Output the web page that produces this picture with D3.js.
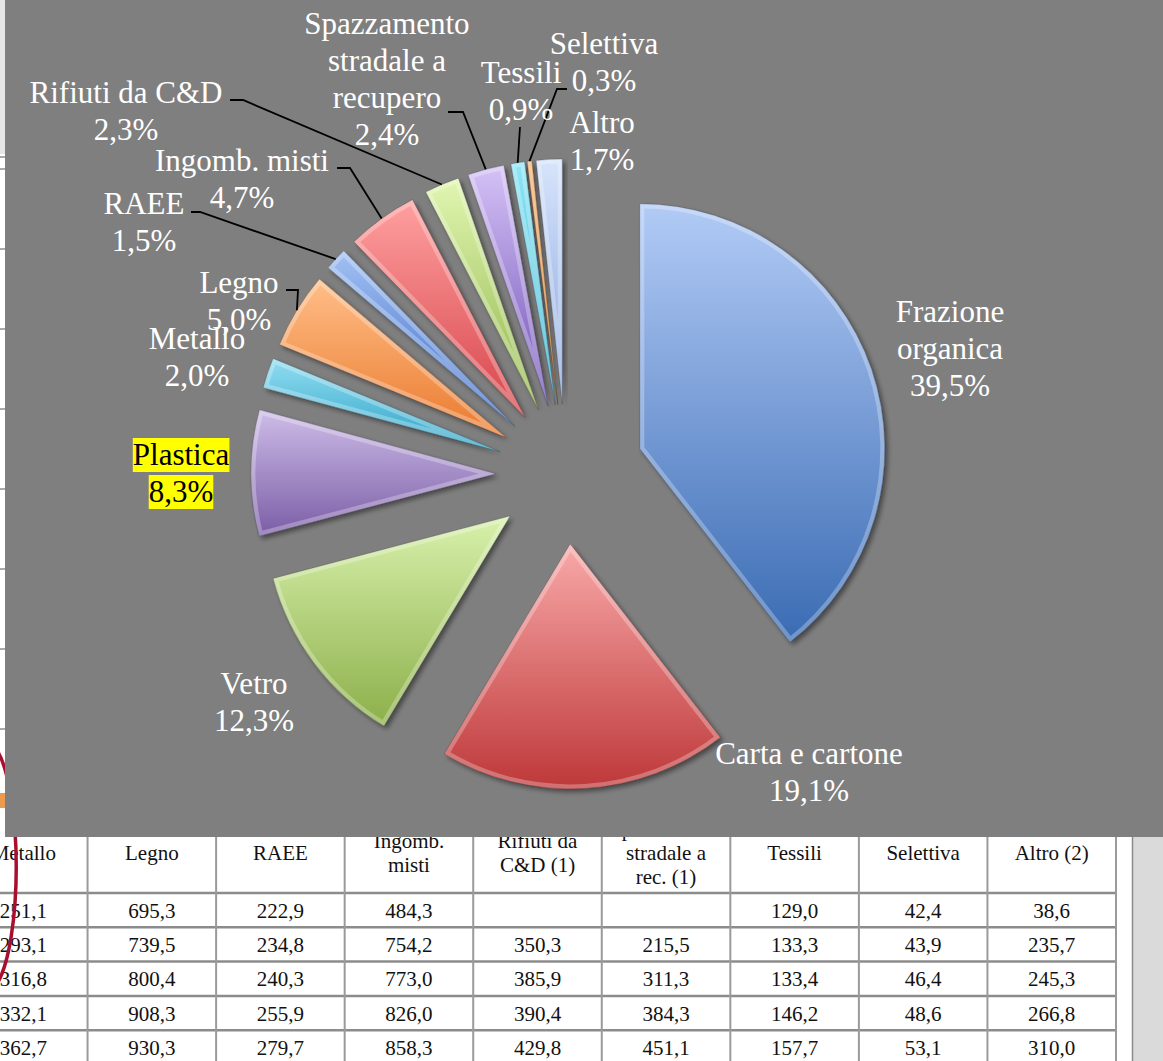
<!DOCTYPE html>
<html>
<head>
<meta charset="utf-8">
<script src="https://cdn.jsdelivr.net/npm/d3@7"></script>
<style>
  body { margin: 0; background: #fff; }
  svg { display: block; }
</style>
</head>
<body>
<div id="chart"></div>
<script>
// pie data (share of separate collection, %)
const categories = ["Frazione organica", "Carta e cartone", "Vetro", "Plastica", "Metallo", "Legno",
  "RAEE", "Ingomb. misti", "Rifiuti da C&D", "Spazzamento stradale a recupero", "Tessili", "Selettiva", "Altro"];
const shares = [39.5, 19.1, 12.3, 8.3, 2.0, 5.0, 1.5, 4.7, 2.3, 2.4, 0.9, 0.3, 1.7];
// how the label names break on lines
const labelNames = [["Frazione", "organica"], ["Carta e cartone"], ["Vetro"], ["Plastica"], ["Metallo"], ["Legno"],
  ["RAEE"], ["Ingomb. misti"], ["Rifiuti da C&D"], ["Spazzamento", "stradale a", "recupero"], ["Tessili"], ["Selettiva"], ["Altro"]];

// table under the chart (only the visible part)
const tableHeaders = [["Metallo"], ["Legno"], ["RAEE"], ["Ingomb.", "misti"], ["Rifiuti da", "C&D (1)"],
  ["Spazzamento", "stradale a", "rec. (1)"], ["Tessili"], ["Selettiva"], ["Altro (2)"]];
const colMetallo   = ["251,1", "293,1", "316,8", "332,1", "362,7"];
const colLegno     = ["695,3", "739,5", "800,4", "908,3", "930,3"];
const colRaee      = ["222,9", "234,8", "240,3", "255,9", "279,7"];
const colIngomb    = ["484,3", "754,2", "773,0", "826,0", "858,3"];
const colRifiuti   = ["", "350,3", "385,9", "390,4", "429,8"];
const colSpazz     = ["", "215,5", "311,3", "384,3", "451,1"];
const colTessili   = ["129,0", "133,3", "133,4", "146,2", "157,7"];
const colSelettiva = ["42,4", "43,9", "46,4", "48,6", "53,1"];
const colAltro     = ["38,6", "235,7", "245,3", "266,8", "310,0"];
const tableCols = [colMetallo, colLegno, colRaee, colIngomb, colRifiuti, colSpazz, colTessili, colSelettiva, colAltro];

// slice colours: [top, bottom] of the gradient
const sliceColors = [
  ["#b2cbf6", "#3a6bb3"], ["#f9a9a9", "#be3839"], ["#d8f1ac", "#8caf4a"], ["#cebde8", "#7a5da6"],
  ["#92ddf1", "#2aa2c6"], ["#ffbe88", "#ea7a2e"], ["#a2c0f3", "#3b6cc6"], ["#ffa0a0", "#d6444a"],
  ["#e1f6b2", "#90b648"], ["#d5c2f6", "#6f50b6"], ["#90e6f6", "#2eaecd"], ["#fbb676", "#de7a24"],
  ["#d7e4fb", "#88a6df"]
];

// label layout: centre x, first baseline, optional leader (label side points)
const labelLayout = [
  {x: 950, y: 322}, {x: 809, y: 764}, {x: 254, y: 694}, {x: 181, y: 465, highlight: true},
  {x: 197, y: 349}, {x: 239, y: 293, leader: [[286, 290], [298, 290]]},
  {x: 144, y: 214, leader: [[191, 212], [200, 212]]},
  {x: 242, y: 171, leader: [[337, 168], [350, 168]]},
  {x: 126, y: 103, leader: [[230, 100], [243, 100]]},
  {x: 387, y: 34, leader: [[448, 112], [463, 112]]},
  {x: 521, y: 83, leader: [[520, 127]]},
  {x: 604, y: 54, leader: [[567, 89], [557, 89]]},
  {x: 602, y: 133}
];

const width = 1163, height = 1061;
const chartBottom = 837;
const cx = 566, cy = 474, radius = 245;
const explode = 70, explodeFirst = 78;
const lineH = 37;
const serif = "'Liberation Serif', 'Times New Roman', serif";

const fmt = v => d3.format(".1f")(v).replace(".", ",") + "%";

const svg = d3.select("#chart").append("svg")
  .attr("width", width)
  .attr("height", height);

const defs = svg.append("defs");
const shadow = defs.append("filter").attr("id", "shadow")
  .attr("x", "-20%").attr("y", "-20%").attr("width", "140%").attr("height", "140%");
shadow.append("feDropShadow")
  .attr("dx", 3).attr("dy", 3).attr("stdDeviation", 2.5)
  .attr("flood-color", "#000").attr("flood-opacity", 0.45);

sliceColors.forEach((c, i) => {
  const g = defs.append("linearGradient").attr("id", "grad" + i)
    .attr("x1", 0).attr("y1", 0).attr("x2", 0).attr("y2", 1);
  g.append("stop").attr("offset", "0%").attr("stop-color", c[0]);
  g.append("stop").attr("offset", "100%").attr("stop-color", c[1]);
});

/* ---- background slide: table peeking out below the chart ---- */
const tableG = svg.append("g");

// left strip behind the chart
tableG.append("rect").attr("x", 0).attr("y", 0).attr("width", 6).attr("height", 154).attr("fill", "#e6e6e6");
[157, 169, 249, 329, 409, 489, 569, 649, 729].forEach(y => {
  tableG.append("line").attr("x1", 0).attr("x2", 6).attr("y1", y).attr("y2", y)
    .attr("stroke", "#8c8c8c").attr("stroke-width", 1.5);
});
tableG.append("rect").attr("x", 0).attr("y", 793).attr("width", 6).attr("height", 15).attr("fill", "#ee9a4c");

// right panel
tableG.append("rect").attr("x", 1133).attr("y", 0).attr("width", 30).attr("height", height).attr("fill", "#dadada");
tableG.append("line").attr("x1", 1132.5).attr("x2", 1132.5).attr("y1", 0).attr("y2", height)
  .attr("stroke", "#8a8a8a").attr("stroke-width", 1.5);

const colX = d3.scaleLinear().domain([0, 9]).range([-41, 1116]);
const headTop = 800, headBottom = 893, rowH = 34.3;
const rowY = d3.scaleLinear().domain([0, 5]).range([headBottom, headBottom + 5 * rowH]);

// horizontal rules
d3.range(0, 6).forEach(i => {
  tableG.append("line").attr("x1", 0).attr("x2", 1116)
    .attr("y1", rowY(i)).attr("y2", rowY(i))
    .attr("stroke", "#8c8c8c").attr("stroke-width", 2.5);
});
// vertical rules
d3.range(1, 10).forEach(i => {
  tableG.append("line").attr("x1", colX(i)).attr("x2", colX(i))
    .attr("y1", headTop).attr("y2", height)
    .attr("stroke", "#9a9a9a").attr("stroke-width", 2);
});

tableHeaders.forEach((lines, c) => {
  const xm = (colX(c) + colX(c + 1)) / 2;
  const y0 = 860 - (lines.length - 1) * 12;
  lines.forEach((t, k) => {
    tableG.append("text").attr("x", xm).attr("y", y0 + k * 24)
      .attr("text-anchor", "middle").attr("font-family", serif)
      .attr("font-size", 21).attr("fill", "#111").text(t);
  });
});

tableCols.forEach((col, c) => {
  const xm = (colX(c) + colX(c + 1)) / 2;
  col.forEach((v, r) => {
    tableG.append("text").attr("x", xm).attr("y", rowY(r) + rowH / 2 + 7.5)
      .attr("text-anchor", "middle").attr("font-family", serif)
      .attr("font-size", 21).attr("fill", "#111").text(v);
  });
});

// red hand-drawn circle on the left
tableG.append("path")
  .attr("d", "M -2 752 A 30 125 0 0 1 -2 982")
  .attr("fill", "none").attr("stroke", "#a80f2e").attr("stroke-width", 3.5);

/* ---- chart ---- */
const chartG = svg.append("g");
chartG.append("rect").attr("x", 5).attr("y", 0).attr("width", width - 5).attr("height", chartBottom)
  .attr("fill", "#7f7f7f");

const pie = d3.pie().sort(null).value(d => d)(shares);
const arc = d3.arc().innerRadius(0).outerRadius(radius);

function offsetOf(d, i) {
  const mid = (d.startAngle + d.endAngle) / 2;
  const e = i === 0 ? explodeFirst : explode;
  return [Math.sin(mid) * e, -Math.cos(mid) * e];
}

// clip paths so the bevel band stays inside each slice
pie.forEach((d, i) => {
  defs.append("clipPath").attr("id", "clip" + i)
    .append("path").attr("d", arc(d));
});

const slices = chartG.append("g").attr("transform", `translate(${cx},${cy})`)
  .selectAll("g.slice")
  .data(pie)
  .join("g")
  .attr("class", "slice")
  .attr("transform", (d, i) => `translate(${offsetOf(d, i)})`);

slices.append("path")
  .attr("d", arc)
  .attr("fill", (d, i) => `url(#grad${i})`)
  .attr("filter", "url(#shadow)");
// bevel: light inner band plus a faint dark rim
slices.append("path")
  .attr("d", arc)
  .attr("clip-path", (d, i) => `url(#clip${i})`)
  .attr("fill", "none")
  .attr("stroke", "#ffffff")
  .attr("stroke-opacity", 0.28)
  .attr("stroke-width", 9)
  .attr("stroke-linejoin", "miter");
slices.append("path")
  .attr("d", arc)
  .attr("fill", "none")
  .attr("stroke", "#000")
  .attr("stroke-opacity", 0.18)
  .attr("stroke-width", 1);

// leader lines end at the middle of the slice's outer arc
pie.forEach((d, i) => {
  const lay = labelLayout[i];
  if (!lay.leader) return;
  const mid = (d.startAngle + d.endAngle) / 2;
  const off = offsetOf(d, i);
  const end = [cx + off[0] + Math.sin(mid) * radius, cy + off[1] - Math.cos(mid) * radius];
  const pts = lay.leader.concat([end]);
  chartG.append("path")
    .attr("d", d3.line()(pts))
    .attr("fill", "none")
    .attr("stroke", "#000")
    .attr("stroke-width", 1.8);
});

// data labels
const labelsG = chartG.append("g");
pie.forEach((d, i) => {
  const lay = labelLayout[i];
  const lines = labelNames[i].concat([fmt(shares[i])]);
  const g = labelsG.append("g");
  const texts = lines.map((t, k) => g.append("text")
    .attr("x", lay.x).attr("y", lay.y + k * lineH)
    .attr("text-anchor", "middle")
    .attr("font-family", serif)
    .attr("font-size", 31)
    .attr("fill", lay.highlight ? "#000" : "#fff")
    .text(t));
  if (lay.highlight) {
    texts.forEach(t => {
      const b = t.node().getBBox();
      g.insert("rect", "text")
        .attr("x", b.x).attr("y", b.y + 1)
        .attr("width", b.width).attr("height", b.height - 1)
        .attr("fill", "#ffff00");
    });
  }
});
</script>
</body>
</html>
